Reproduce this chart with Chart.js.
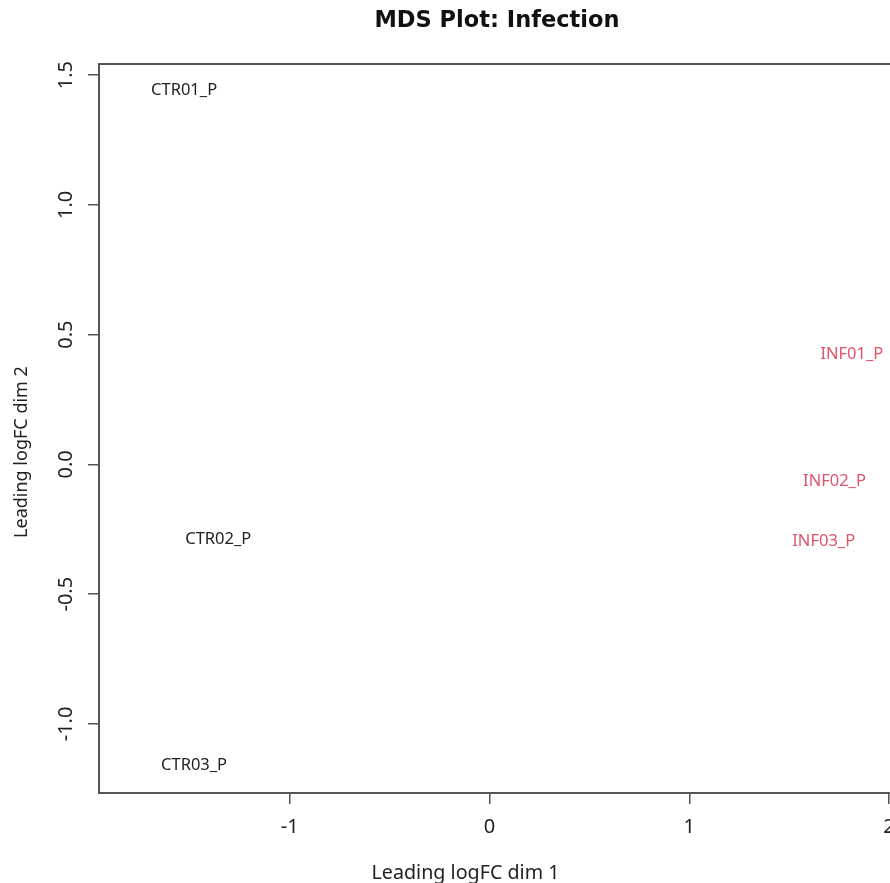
<!DOCTYPE html>
<html>
<head>
<meta charset="utf-8">
<title>MDS Plot: Infection</title>
<script src="https://cdn.jsdelivr.net/npm/chart.js@4/dist/chart.umd.min.js"></script>
<style>
  html, body { margin: 0; padding: 0; background: #fff; }
  #wrap { width: 890px; height: 883px; overflow: hidden; position: relative; }
  #mdsChart { position: absolute; left: 0; top: 0; }
</style>
</head>
<body>
<div id="wrap"><canvas id="mdsChart" width="900" height="883"></canvas></div>
<script>
// sample labels and leading logFC coordinates
const ctrLabels = ["CTR01_P", "CTR02_P", "CTR03_P"];
const ctrDim1 = [-1.529, -1.358, -1.479];
const ctrDim2 = [1.443, -0.288, -1.158];

const infLabels = ["INF01_P", "INF02_P", "INF03_P"];
const infDim1 = [1.814, 1.727, 1.673];
const infDim2 = [0.423, -0.064, -0.298];

const xTicks = [-1, 0, 1, 2];
const yTicks = [-1.0, -0.5, 0.0, 0.5, 1.0, 1.5];

const CTR_COLOR = "#222222";
const INF_COLOR = "#DF536B";
const FRAME = "#555555";

function toPoints(xs, ys) {
    return xs.map((v, i) => ({x: v, y: ys[i]}));
}

// draws the frame, titles, tick labels and the sample names at each point
const mdsText = {
    id: 'mdsText',
    beforeDraw(chart) {
        const ctx = chart.ctx;
        ctx.save();
        ctx.fillStyle = "#fff";
        ctx.fillRect(0, 0, chart.width, chart.height);
        ctx.restore();
    },
    afterDraw(chart) {
        const ctx = chart.ctx;
        const a = chart.chartArea;
        const xs = chart.scales.x;
        const ys = chart.scales.y;
        ctx.save();

        ctx.strokeStyle = FRAME;
        ctx.lineWidth = 2;
        ctx.strokeRect(a.left, a.top, a.right - a.left, a.bottom - a.top);

        // main title
        ctx.fillStyle = "#111";
        ctx.font = "bold 22.5px 'DejaVu Sans'";
        ctx.textAlign = "center";
        ctx.textBaseline = "alphabetic";
        ctx.fillText("MDS Plot: Infection", (a.left + a.right) / 2, 27);

        // x tick labels
        ctx.fillStyle = "#222";
        ctx.font = "20px 'Noto Sans'";
        xs.ticks.forEach(t => {
            ctx.fillText(String(t.value), xs.getPixelForValue(t.value), 833);
        });

        // x title
        ctx.font = "19.7px 'Noto Sans'";
        ctx.fillText("Leading logFC dim 1", 465.5, 879);

        // y tick labels, rotated
        ctx.font = "20px 'Noto Sans'";
        ys.ticks.forEach(t => {
            ctx.save();
            ctx.translate(72, ys.getPixelForValue(t.value));
            ctx.rotate(-Math.PI / 2);
            ctx.fillText(t.value.toFixed(1), 0, 0);
            ctx.restore();
        });

        // y title
        ctx.font = "18px 'Noto Sans'";
        ctx.save();
        ctx.translate(27, 452);
        ctx.rotate(-Math.PI / 2);
        ctx.fillText("Leading logFC dim 2", 0, 0);
        ctx.restore();

        // sample names
        ctx.font = "16.5px 'Noto Sans'";
        ctx.textBaseline = "middle";
        chart.data.datasets.forEach((ds, i) => {
            const meta = chart.getDatasetMeta(i);
            ctx.fillStyle = ds.textColor;
            meta.data.forEach((pt, j) => {
                ctx.fillText(ds.names[j], pt.x, pt.y);
            });
        });
        ctx.restore();
    }
};

const CHART = document.getElementById("mdsChart");
let mdsChart = new Chart(CHART, {
    type: 'scatter',
    data: {
        datasets: [
            {
                label: "Control",
                names: ctrLabels,
                textColor: CTR_COLOR,
                data: toPoints(ctrDim1, ctrDim2),
                pointRadius: 0,
                pointHoverRadius: 0,
                backgroundColor: CTR_COLOR,
                borderColor: CTR_COLOR
            },
            {
                label: "Infection",
                names: infLabels,
                textColor: INF_COLOR,
                data: toPoints(infDim1, infDim2),
                pointRadius: 0,
                pointHoverRadius: 0,
                backgroundColor: INF_COLOR,
                borderColor: INF_COLOR
            }
        ]
    },
    options: {
        responsive: false,
        animation: false,
        devicePixelRatio: 1,
        layout: {padding: {top: 64, right: 5, left: 0, bottom: 0}},
        plugins: {
            legend: {display: false},
            tooltip: {enabled: false}
        },
        scales: {
            x: {
                type: 'linear',
                min: -1.955,
                max: 2.03,
                afterBuildTicks: s => { s.ticks = xTicks.map(v => ({value: v})); },
                afterFit: s => { s.height = 90; },
                ticks: {display: false},
                border: {display: false},
                grid: {
                    drawOnChartArea: false,
                    drawTicks: true,
                    tickLength: 11,
                    color: FRAME,
                    lineWidth: 1.5
                }
            },
            y: {
                type: 'linear',
                min: -1.266,
                max: 1.543,
                afterBuildTicks: s => { s.ticks = yTicks.map(v => ({value: v})); },
                afterFit: s => { s.width = 99; },
                ticks: {display: false},
                border: {display: false},
                grid: {
                    drawOnChartArea: false,
                    drawTicks: true,
                    tickLength: 11,
                    color: FRAME,
                    lineWidth: 1.5
                }
            }
        }
    },
    plugins: [mdsText]
});
</script>
</body>
</html>
